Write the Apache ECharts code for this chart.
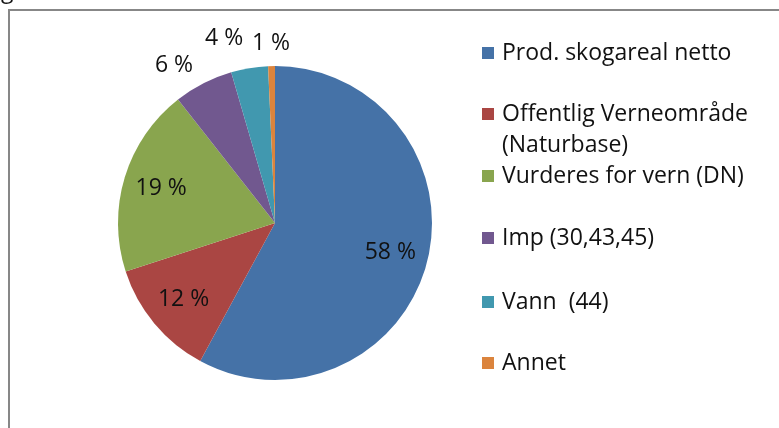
<!DOCTYPE html>
<html>
<head>
<meta charset="utf-8">
<script src="https://cdn.jsdelivr.net/npm/echarts@6/dist/echarts.min.js"></script>
<style>
    html, body {margin: 0; padding: 0; background: #fff;}
    #chart {width: 779px; height: 428px;}
</style>
</head>
<body>
<div id="chart"></div>
<script>
let names = ['Prod. skogareal netto', 'Offentlig Verneområde\n(Naturbase)', 'Vurderes for vern (DN)', 'Imp (30,43,45)', 'Vann  (44)', 'Annet']
let values = [57.9, 12.1, 19.4, 6.1, 3.8, 0.7]
let colors = ['#4572A7', '#AA4643', '#89A54E', '#71588F', '#4198AF', '#DB843D']
let legendTops = [37.5, 67.5, 160.5, 222.5, 286.5, 347.5]

let font = 'Open Sans'
let fsize = 23
let center = [275, 223]
let r = 157

function pct(p) {
    return Math.round(p.percent) + ' %'
}

// label nudges for the small slices (Excel moves them apart)
let nudge = [null, null, null, {dx: -17, dy: 6}, {dx: -21, dy: -3}, {dx: 0, dy: 4}]

let pieData = [], bigLabels = [], smallLabels = []
for (let i = 0; i < names.length; i++) {
    pieData.push({name: names[i], value: values[i], itemStyle: {color: colors[i]}})
    bigLabels.push({name: names[i], value: values[i], label: {show: values[i] >= 10}})
    smallLabels.push({name: names[i], value: values[i], label: {show: values[i] < 10}})
}

let labelSeries = function (radius, data) {
    return {
        type: 'pie',
        center: center,
        radius: radius,
        startAngle: 90,
        silent: true,
        animation: false,
        avoidLabelOverlap: false,
        itemStyle: {color: 'rgba(0,0,0,0)', borderWidth: 0},
        emphasis: {disabled: true},
        labelLine: {show: false},
        label: {
            position: 'inside',
            formatter: pct,
            color: '#111',
            fontFamily: font,
            fontSize: fsize
        },
        data: data
    }
}

let legends = []
for (let i = 0; i < names.length; i++) {
    let two = names[i].indexOf('\n') >= 0
    legends.push({
        data: [names[i]],
        orient: 'vertical',
        left: 482,
        top: legendTops[i],
        padding: 0,
        itemWidth: 12,
        itemHeight: 12,
        icon: 'rect',
        selectedMode: false,
        // icon sits on the first line of a two-line entry
        formatter: two ? function (n) { return '\n' + n } : '{name}',
        textStyle: {
            fontFamily: font,
            fontSize: fsize,
            color: '#111',
            lineHeight: 31,
            padding: [0, 0, 0, 3]
        }
    })
}

let chart = echarts.init(document.getElementById('chart'))
chart.setOption({
    animation: false,
    legend: legends,
    graphic: [{
        type: 'polyline',
        shape: {points: [[779, 10], [9, 10], [9, 428]]},
        style: {stroke: '#878787', lineWidth: 2, fill: null}
    }, {
        type: 'text',
        left: 1,
        top: -20,
        style: {text: 'g', fontFamily: font, fontSize: fsize, fill: '#111'}
    }],
    series: [{
        type: 'pie',
        center: center,
        radius: r,
        startAngle: 90,
        silent: true,
        label: {show: false},
        labelLine: {show: false},
        itemStyle: {borderWidth: 0},
        data: pieData
    },
        labelSeries([0, 2 * 116], bigLabels),
        Object.assign(labelSeries([0, 2 * 181], smallLabels), {
            labelLayout: function (p) {
                return nudge[p.dataIndex] || {}
            }
        })
    ]
})
</script>
</body>
</html>
